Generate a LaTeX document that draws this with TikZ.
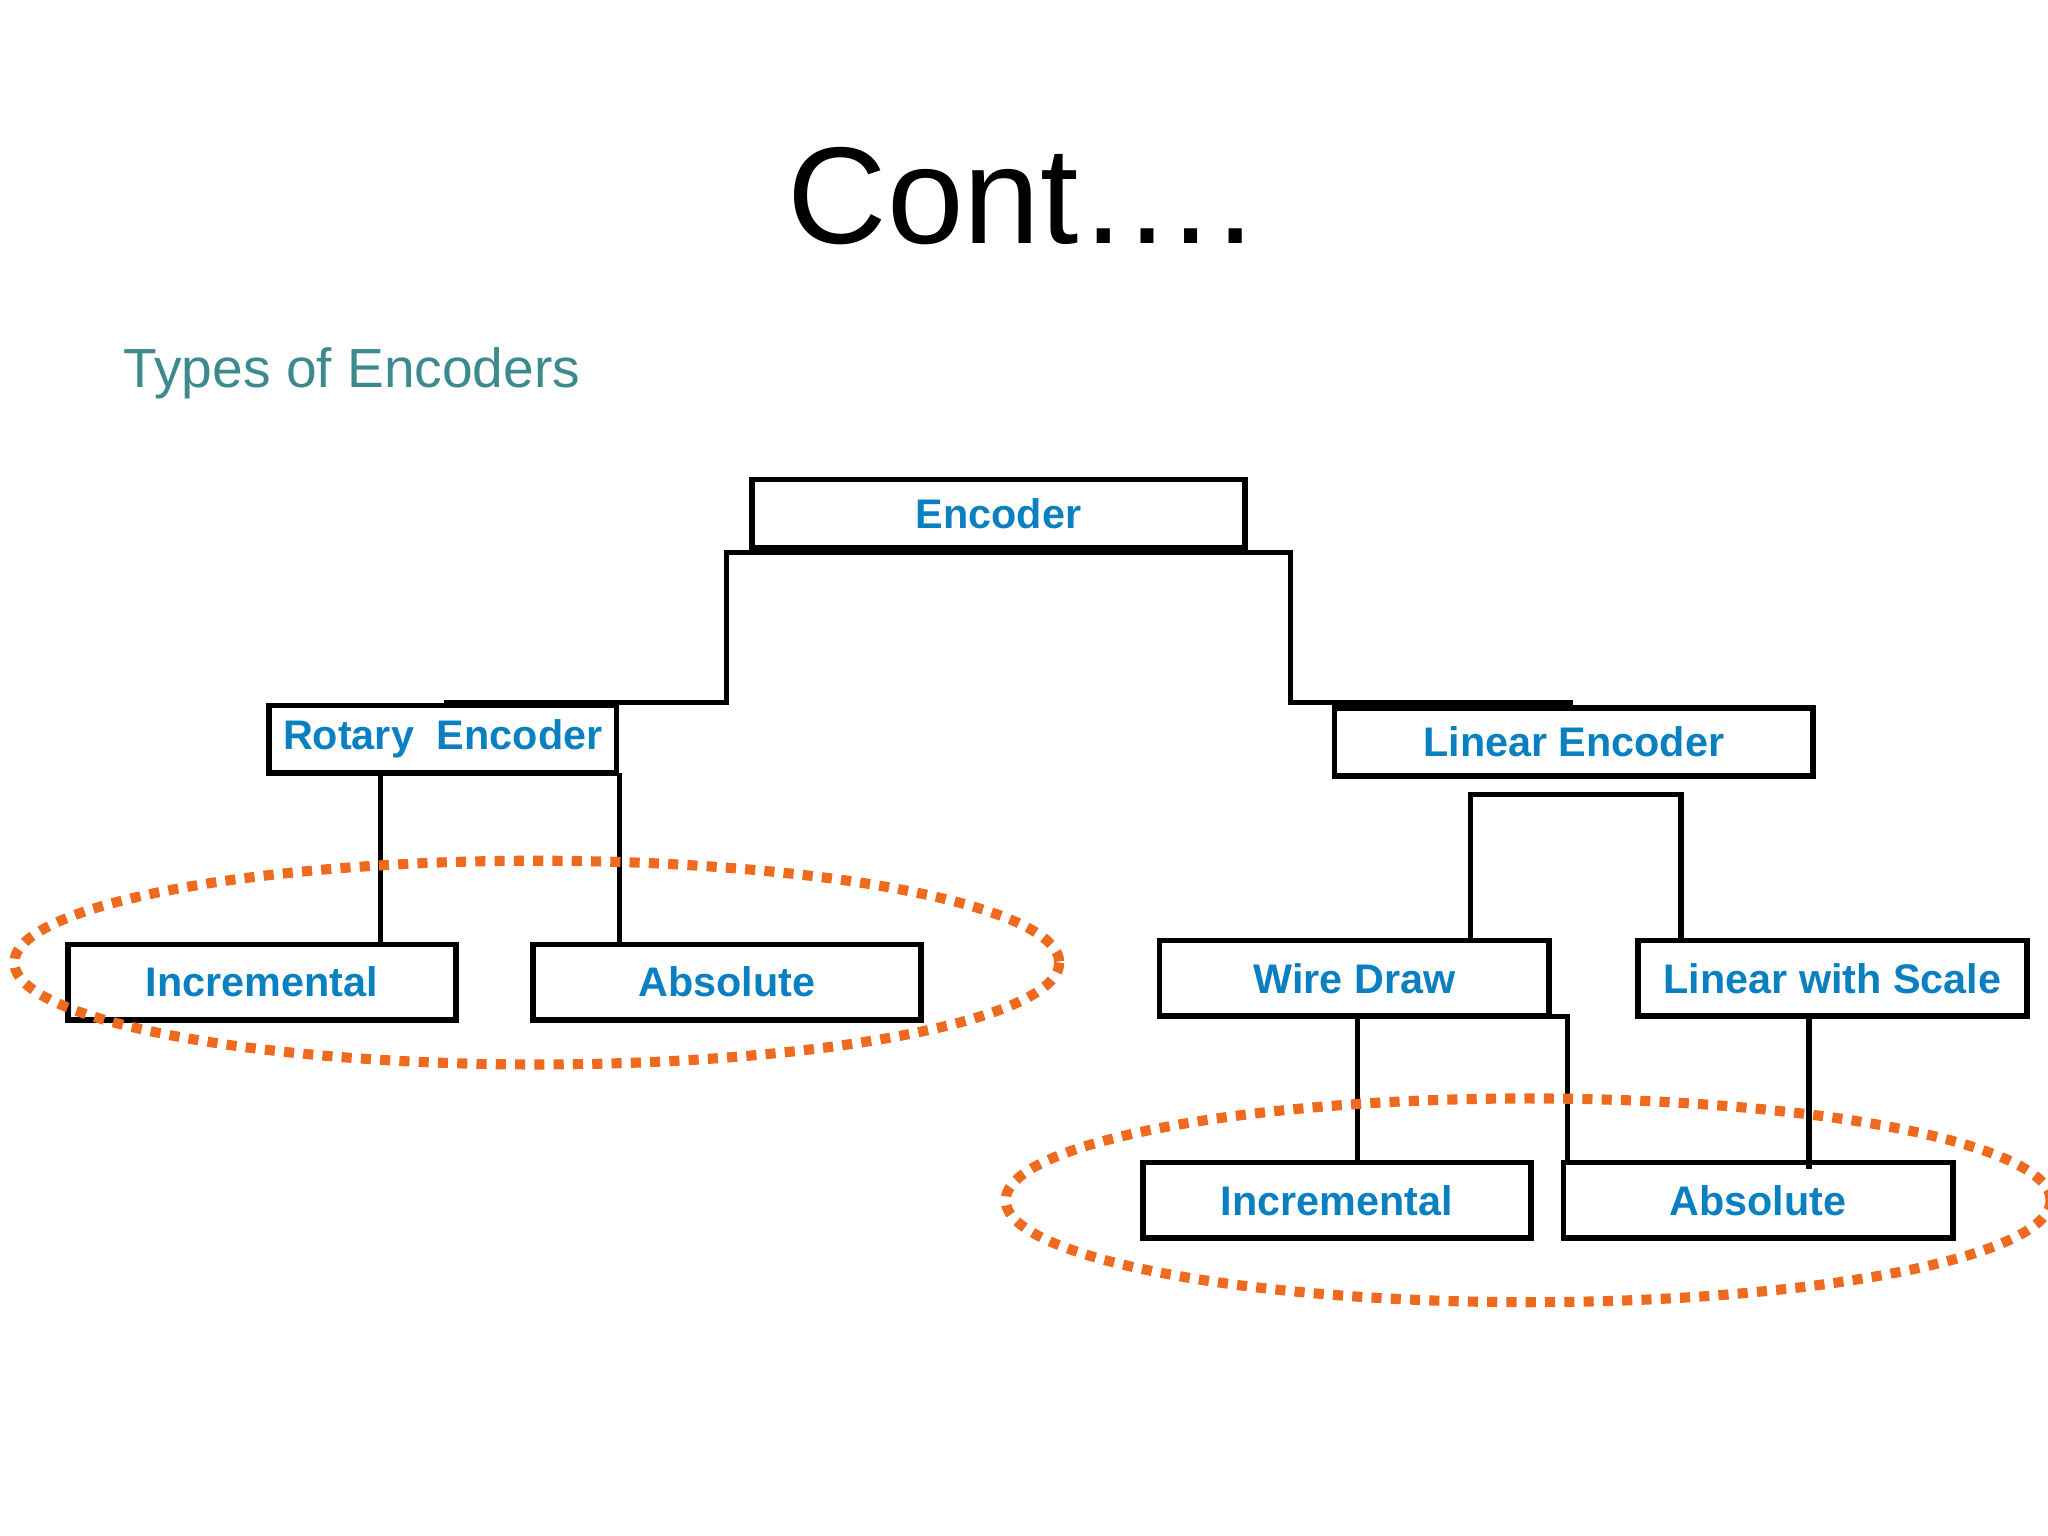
\documentclass[tikz,border=0pt]{standalone}
\usepackage{fontspec}
\setmainfont{Liberation Sans}
\begin{document}
\begin{tikzpicture}[x=0.01cm,y=-0.01cm]
\definecolor{tcol}{HTML}{0A80C0}
\definecolor{sub}{HTML}{3D8A8E}
\definecolor{org}{HTML}{EE6A1E}
\tikzset{
 box/.style={draw,line width=1.2pt,inner sep=0pt,font=\fontsize{9pt}{11pt}\selectfont\bfseries,text=tcol},
 wire/.style={line width=1.1pt},
 oval/.style={draw=org,line width=2.2pt,dotted}}
\useasboundingbox (0,0) rectangle (1568,1176);
\clip (0,0) rectangle (1568,1176);
\node (title) at (782,150) {\fontsize{30pt}{34pt}\selectfont Cont….};
\node[anchor=west,text=sub,inner sep=0pt] (sub) at (94,286) {\fontsize{12pt}{14pt}\selectfont Types of Encoders};
\node[box,minimum width=3.77cm,minimum height=0.52cm] (enc) at (764.5,393) {Encoder};
\node[box,minimum width=2.66cm,minimum height=0.52cm] (rot) at (339,566) {Rotary\ \ Encoder};
\node[box,minimum width=3.66cm,minimum height=0.52cm] (lin) at (1205,568) {Linear Encoder};
\node[box,minimum width=2.97cm,minimum height=0.58cm] (incL) at (200.5,752) {Incremental};
\node[box,minimum width=2.97cm,minimum height=0.58cm] (absL) at (556.5,752) {Absolute};
\node[box,minimum width=2.98cm,minimum height=0.58cm] (wire) at (1037,749) {Wire Draw};
\node[box,minimum width=2.98cm,minimum height=0.58cm] (scale) at (1403,749) {Linear with Scale};
\node[box,minimum width=2.97cm,minimum height=0.58cm] (incR) at (1023.5,919) {Incremental};
\node[box,minimum width=2.98cm,minimum height=0.58cm] (absR) at (1346,919) {Absolute};
\coordinate (a1) at (556,423); \coordinate (a2) at (988,423);
\coordinate (r1) at (340,538); \coordinate (l1) at (1204,538);
\draw[wire] (r1) -- (556,538) -- (a1) -- (a2) -- (988,538) -- (l1);
\draw[wire] (291,592) -- (291,723) -- (197,723);
\draw[wire] (474,592) -- (474,723);
\draw[wire] (1126,720) -- (1126,608) -- (1287,608) -- (1287,720);
\draw[wire] (1039,778) -- (1039,890) -- (958,890);
\draw[wire] (1186,778) -- (1200,778) -- (1200,890) -- (1278,890);
\draw[wire] (1385,778) -- (1385,895);
\draw[oval] (411,737) ellipse [x radius=400,y radius=78];
\draw[oval] (1170,919) ellipse [x radius=400,y radius=78];
\end{tikzpicture}
\end{document}
